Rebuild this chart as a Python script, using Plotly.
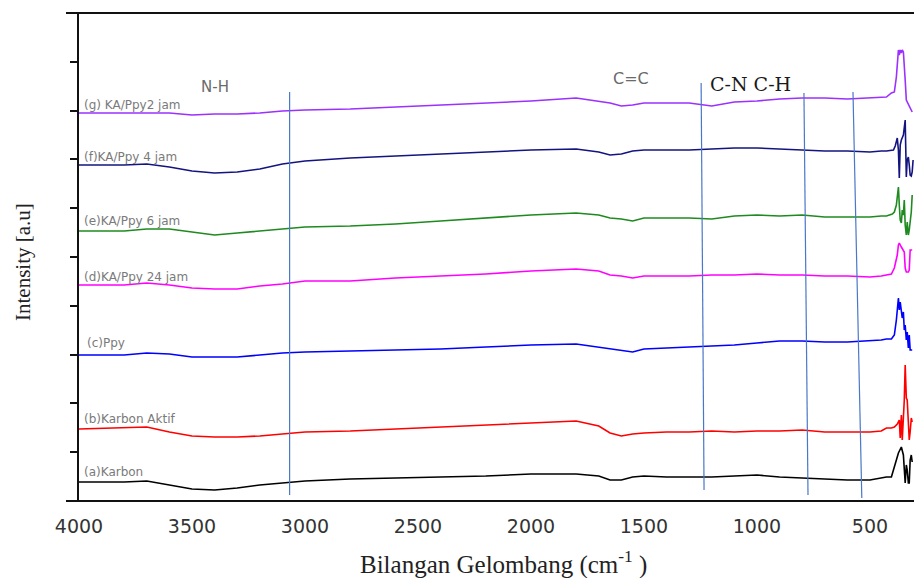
import plotly.graph_objects as go

# ---------------- data ----------------
wavenumber = [4000, 3800, 3700, 3600, 3500, 3400, 3300, 3200, 3100, 3000, 2800, 2600,
              2400, 2200, 2000, 1800, 1700, 1650, 1600, 1550, 1500, 1400, 1300, 1200,
              1100, 1000, 900, 800, 700, 600, 500, 450]

a_karbon = [19, 19, 20, 16, 12, 11, 13, 16, 18, 20, 22, 23, 24, 25, 27, 27, 25, 21, 21, 24,
            25, 24, 24, 24, 25, 26, 24, 23, 22, 21, 21, 23]
a_peak_wn = [427, 405, 392, 383, 374, 366, 361, 352, 344, 339, 335, 330, 326, 322, 317, 313]
a_peak = [24, 24, 33, 41, 48, 51, 54, 46, 18, 36, 31, 18, 18, 41, 46, 39]

b_karbon_aktif = [72, 73, 74, 69, 65, 64, 64, 65, 67, 69, 70, 72, 74, 76, 78, 80, 75, 68, 65, 67,
                  68, 69, 69, 70, 69, 70, 70, 71, 69, 69, 69, 70]
b_peak_wn = [427, 405, 392, 379, 370, 366, 361, 357, 348, 344, 339, 335, 330, 326, 322, 317, 313]
b_peak = [73, 73, 74, 77, 81, 63, 86, 61, 101, 136, 103, 101, 71, 61, 69, 83, 79]

c_ppy = [146, 146, 148, 147, 144, 144, 144, 146, 148, 149, 150, 151, 152, 154, 156, 157, 154, 152,
         151, 149, 152, 153, 154, 155, 156, 158, 160, 160, 159, 159, 160, 161]
c_peak_wn = [427, 405, 392, 383, 374, 370, 366, 357, 352, 348, 344, 339, 335, 330, 326, 322, 313]
c_peak = [162, 162, 166, 181, 203, 191, 199, 183, 189, 171, 176, 161, 169, 153, 166, 151, 151]

d_ppy24 = [216, 216, 218, 216, 213, 212, 212, 215, 217, 220, 220, 223, 225, 227, 230, 232, 230, 226,
           225, 223, 225, 225, 225, 226, 226, 227, 226, 226, 225, 225, 224, 225]
d_peak_wn = [427, 405, 392, 379, 374, 370, 361, 352, 348, 344, 339, 330, 326, 322, 313]
d_peak = [226, 227, 233, 246, 256, 258, 254, 251, 249, 233, 229, 229, 231, 251, 251]

e_ppy6 = [270, 270, 272, 272, 269, 266, 268, 270, 272, 274, 275, 277, 280, 283, 286, 288, 286, 283,
          282, 280, 283, 283, 283, 282, 285, 286, 285, 286, 284, 284, 284, 285]
e_peak_wn = [427, 401, 392, 383, 379, 374, 370, 366, 361, 357, 352, 348, 344, 339, 335, 330, 326,
             322, 317, 313]
e_peak = [285, 287, 289, 296, 306, 314, 296, 281, 278, 291, 286, 301, 276, 266, 279, 266, 271,
          279, 289, 306]

f_ppy4 = [336, 336, 337, 334, 330, 328, 329, 332, 337, 340, 343, 345, 347, 349, 351, 352, 349, 346,
          347, 350, 351, 351, 351, 352, 353, 353, 352, 351, 350, 350, 349, 350]
f_peak_wn = [427, 396, 388, 379, 374, 370, 366, 361, 352, 344, 339, 335, 330, 326, 322, 317, 313, 309]
f_peak = [350, 351, 355, 363, 351, 323, 356, 361, 366, 381, 324, 341, 344, 336, 326, 325, 329, 341]

g_ppy2 = [388, 388, 388, 388, 386, 387, 387, 388, 390, 391, 392, 394, 396, 398, 400, 403, 400, 398,
          395, 396, 398, 398, 398, 395, 399, 400, 402, 403, 403, 402, 403, 404]
g_peak_wn = [427, 405, 392, 383, 379, 374, 370, 366, 361, 357, 352, 348, 344, 339, 335, 326, 313]
g_peak = [404, 408, 409, 424, 441, 451, 446, 451, 448, 451, 449, 428, 421, 401, 399, 394, 389]

series_labels = ["(a)Karbon", "(b)Karbon Aktif", "(c)Ppy", "(d)KA/Ppy 24 jam",
                 "(e)KA/Ppy 6 jam", "(f)KA/Ppy 4 jam", "(g) KA/Ppy2 jam"]

x_tick_values = [4000, 3500, 3000, 2500, 2000, 1500, 1000, 500]
x_tick_labels = ["4000", "3500", "3000", "2500", "2000", "1500", "1000", "500"]

# band marker lines: (wavenumber top, wavenumber bottom, intensity top, intensity bottom)
band_lines = [(3068, 3068, 409, 6), (1247, 1234, 418, 11), (792, 774, 408, 6), (575, 536, 409, 3)]
band_labels = ["N-H", "C=C", "C-N C-H"]

# ---------------- figure ----------------
colors = ["#000000", "#ff0000", "#0000ff", "#ff00ff", "#1f8a1f", "#141480", "#9b30ff"]
bodies = [a_karbon, b_karbon_aktif, c_ppy, d_ppy24, e_ppy6, f_ppy4, g_ppy2]
peak_x = [a_peak_wn, b_peak_wn, c_peak_wn, d_peak_wn, e_peak_wn, f_peak_wn, g_peak_wn]
peak_y = [a_peak, b_peak, c_peak, d_peak, e_peak, f_peak, g_peak]

fig = go.Figure()
for name, col, body, px, py in zip(series_labels, colors, bodies, peak_x, peak_y):
    fig.add_trace(go.Scatter(x=wavenumber + px, y=body + py, mode="lines", name=name,
                             line=dict(color=col, width=1.6), showlegend=False,
                             hoverinfo="skip"))

PW = 835.0   # plot-area width in px
PH = 488.0   # plot-area height in px

label_pos = [(3 / PW, 29), (3 / PW, 82), (6 / PW, 158), (3 / PW, 224), (3 / PW, 280),
             (3 / PW, 344), (3 / PW, 396)]
for name, (lx, ly) in zip(series_labels, label_pos):
    fig.add_annotation(x=lx, xref="paper", y=ly, yref="y", text=name, showarrow=False,
                       xanchor="left", yanchor="middle",
                       font=dict(family="DejaVu Sans", size=12, color="#7a7a7a"))

for (x0, x1, y0, y1) in band_lines:
    fig.add_shape(type="line", x0=x0, x1=x1, y0=y0, y1=y1, xref="x", yref="y",
                  line=dict(color="#4a78c8", width=1.2))

fig.add_annotation(x=3399, y=414, text=band_labels[0], showarrow=False,
                   font=dict(family="DejaVu Sans", size=15, color="#6a6a6a"))
fig.add_annotation(x=1556, y=423, text=band_labels[1], showarrow=False,
                   font=dict(family="DejaVu Sans", size=16, color="#6a6a6a"))
fig.add_annotation(x=1030, y=417, text=band_labels[2], showarrow=False,
                   font=dict(family="DejaVu Serif", size=19, color="#1a1a1a"))

# axis titles placed as annotations (pixel-controlled)
fig.add_annotation(x=(503 - 79) / PW, xref="paper", y=-(562 - 501) / PH, yref="paper",
                   text="Bilangan Gelombang (cm<sup>-1</sup> )", showarrow=False,
                   xanchor="center", yanchor="middle",
                   font=dict(family="Liberation Serif", size=25, color="#222"))
fig.add_annotation(x=-(79 - 23) / PW, xref="paper", y=(501 - 262) / PH, yref="paper",
                   text="Intensity [a.u]", showarrow=False, textangle=-90,
                   xanchor="center", yanchor="middle",
                   font=dict(family="Liberation Serif", size=21, color="#222"))

# frame lines extending left of the y axis
fig.add_shape(type="line", xref="paper", yref="paper", x0=-13 / PW, x1=1, y0=0, y1=0,
              line=dict(color="#111", width=2))
fig.add_shape(type="line", xref="paper", yref="paper", x0=-13 / PW, x1=1, y0=1, y1=1,
              line=dict(color="#111", width=2))

# the page body adds an 8px margin, so the figure is 906 wide to avoid any zoom-out
fig.update_layout(
    width=906, height=570,
    margin=dict(l=71, r=0, t=5, b=77, autoexpand=False),
    plot_bgcolor="white", paper_bgcolor="white",
    xaxis=dict(range=[4000, 305], tickmode="array",
               tickvals=x_tick_values, ticktext=x_tick_labels,
               ticks="", showgrid=False, zeroline=False, showline=False, automargin=False,
               tickfont=dict(family="DejaVu Sans", size=19, color="#333"),
               ticklabelstandoff=12),
    yaxis=dict(range=[0, PH], tick0=0, dtick=48.8, ticks="outside", ticklen=7,
               tickwidth=1.5, tickcolor="#111", showticklabels=False, showgrid=False,
               zeroline=False, showline=True, linecolor="#111", linewidth=2,
               automargin=False),
)

fig.write_html("out.html")
